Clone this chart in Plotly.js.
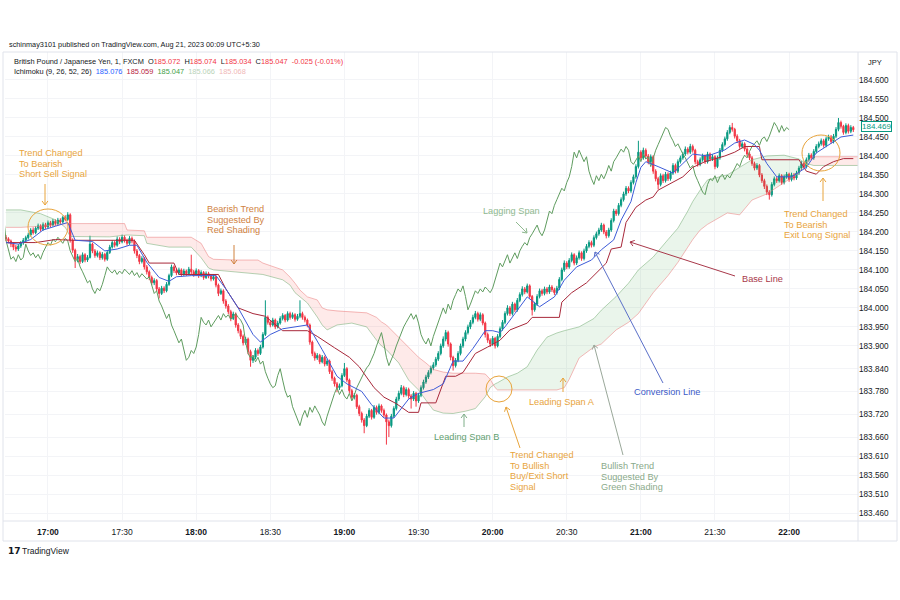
<!DOCTYPE html>
<html><head><meta charset="utf-8">
<script src="https://cdn.plot.ly/plotly-3.0.1.min.js"></script>
<style>html,body{margin:0;padding:0;background:#fff;}#chart{width:900px;height:600px;}</style>
</head><body><div id="chart"></div>
<script>
// ---------- DATA (1-minute GBP/JPY candles from 16:43) ----------
const startTime = Date.UTC(2023, 7, 21, 16, 43, 0);
const openP = [
184.186,184.182,184.176,184.168,184.160,184.155,184.163,184.171,184.178,184.185,
184.192,184.205,184.198,184.210,184.216,184.207,184.219,184.213,184.224,184.218,
184.228,184.222,184.231,184.226,184.238,184.233,184.245,184.178,184.152,184.128,
184.135,184.122,184.140,184.126,184.133,184.168,184.150,184.138,184.145,184.132,
184.141,184.128,184.146,184.160,184.172,184.165,184.181,184.174,184.186,184.178,
184.170,184.183,184.176,184.150,184.138,184.122,184.130,184.108,184.095,184.080,
184.066,184.072,184.050,184.038,184.052,184.045,184.062,184.085,184.108,184.098,
184.092,184.100,184.088,184.097,184.090,184.102,184.095,184.088,184.098,184.085,
184.093,184.080,184.090,184.084,184.076,184.082,184.060,184.038,184.045,184.018,
184.005,183.990,183.972,183.984,183.955,183.940,183.925,183.908,183.918,183.885,
183.862,183.870,183.888,183.880,183.897,183.930,183.975,183.962,183.955,183.968,
183.950,183.960,183.972,183.980,183.968,183.985,183.975,183.982,183.970,183.978,
183.985,183.975,183.968,183.955,183.910,183.880,183.868,183.875,183.858,183.870,
183.852,183.860,183.832,183.815,183.800,183.790,183.795,183.822,183.840,183.810,
183.782,183.765,183.770,183.740,183.722,183.705,183.690,183.715,183.730,183.712,
183.738,183.725,183.742,183.730,183.718,183.700,183.690,183.715,183.735,183.760,
183.775,183.790,183.772,183.785,183.768,183.760,183.775,183.755,183.770,183.790,
183.805,183.818,183.830,183.842,183.850,183.865,183.880,183.900,183.918,183.935,
183.905,183.870,183.848,183.862,183.880,183.900,183.918,183.935,183.950,183.962,
183.975,183.985,183.970,183.982,183.960,183.930,183.915,183.905,183.920,183.900,
183.925,183.945,183.962,183.985,184.000,183.985,184.010,183.995,184.020,184.035,
184.050,184.042,184.058,184.030,183.995,184.010,184.030,184.045,184.038,184.050,
184.042,184.055,184.048,184.040,184.052,184.075,184.100,184.118,184.108,184.125,
184.140,184.118,184.132,184.145,184.130,184.150,184.162,184.172,184.165,184.185,
184.195,184.205,184.218,184.200,184.190,184.205,184.230,184.255,184.248,184.270,
184.285,184.300,184.315,184.308,184.330,184.345,184.372,184.410,184.395,184.415,
184.400,184.385,184.398,184.360,184.340,184.325,184.348,184.335,184.352,184.340,
184.355,184.375,184.360,184.385,184.395,184.405,184.418,184.410,184.425,184.415,
184.385,184.378,184.390,184.400,184.385,184.405,184.392,184.398,184.372,184.395,
184.415,184.430,184.445,184.462,184.475,184.470,184.452,184.440,184.425,184.432,
184.418,184.405,184.395,184.380,184.368,184.375,184.350,184.335,184.320,184.305,
184.298,184.325,184.340,184.335,184.348,184.330,184.345,184.352,184.338,184.350,
184.342,184.355,184.368,184.380,184.372,184.390,184.402,184.395,184.412,184.425,
184.432,184.440,184.428,184.445,184.450,184.438,184.452,184.470,184.488,184.478,
184.462,184.480,184.465,184.475];
const highP = [
184.192,184.186,184.180,184.172,184.166,184.168,184.176,184.184,184.190,184.198,
184.210,184.212,184.215,184.222,184.220,184.225,184.224,184.230,184.229,184.234,
184.233,184.237,184.236,184.243,184.244,184.252,184.249,184.183,184.156,184.142,
184.140,184.146,184.144,184.139,184.190,184.172,184.155,184.151,184.149,184.147,
184.145,184.151,184.166,184.178,184.177,184.188,184.186,184.193,184.191,184.182,
184.189,184.188,184.180,184.155,184.142,184.136,184.134,184.113,184.099,184.085,
184.078,184.076,184.055,184.058,184.057,184.068,184.090,184.114,184.112,184.103,
184.106,184.104,184.103,184.101,184.108,184.140,184.100,184.104,184.102,184.099,
184.097,184.096,184.095,184.088,184.088,184.086,184.064,184.051,184.049,184.023,
184.010,183.995,183.990,183.988,183.960,183.945,183.930,183.924,183.922,183.890,
183.876,183.894,183.893,183.903,183.936,184.020,183.980,183.967,183.974,183.972,
183.966,183.978,183.986,183.984,183.991,183.990,183.988,183.986,183.984,184.020,
183.990,183.980,183.972,183.959,183.914,183.885,183.881,183.879,183.876,183.874,
183.866,183.864,183.837,183.819,183.805,183.801,183.828,183.855,183.844,183.814,
183.787,183.776,183.774,183.745,183.727,183.710,183.721,183.736,183.734,183.744,
183.743,183.748,183.746,183.735,183.722,183.706,183.721,183.741,183.766,183.782,
183.797,183.795,183.791,183.790,183.773,183.781,183.779,183.776,183.796,183.811,
183.824,183.836,183.848,183.857,183.871,183.886,183.906,183.925,183.942,183.940,
183.909,183.874,183.868,183.886,183.906,183.924,183.941,183.956,183.968,183.982,
183.992,183.990,183.988,183.986,183.964,183.935,183.920,183.926,183.924,183.931,
183.951,183.968,183.991,184.007,184.005,184.016,184.014,184.026,184.041,184.057,
184.055,184.064,184.062,184.034,184.016,184.036,184.051,184.050,184.056,184.055,
184.061,184.060,184.053,184.058,184.081,184.106,184.125,184.123,184.131,184.146,
184.144,184.138,184.151,184.149,184.156,184.168,184.178,184.177,184.191,184.201,
184.211,184.224,184.222,184.205,184.211,184.236,184.261,184.260,184.276,184.291,
184.306,184.321,184.320,184.336,184.351,184.378,184.440,184.415,184.422,184.420,
184.405,184.404,184.402,184.365,184.345,184.354,184.353,184.358,184.357,184.361,
184.381,184.380,184.391,184.401,184.411,184.425,184.423,184.432,184.430,184.419,
184.390,184.396,184.406,184.404,184.411,184.409,184.404,184.402,184.401,184.421,
184.436,184.451,184.468,184.481,184.487,184.474,184.457,184.445,184.438,184.436,
184.423,184.410,184.400,184.385,184.381,184.379,184.355,184.340,184.325,184.310,
184.331,184.346,184.345,184.354,184.352,184.351,184.358,184.356,184.356,184.355,
184.361,184.374,184.386,184.385,184.396,184.408,184.407,184.418,184.431,184.438,
184.446,184.445,184.451,184.456,184.455,184.458,184.476,184.500,184.493,184.482,
184.486,184.485,184.481,184.479];
const lowP = [
184.176,184.170,184.160,184.152,184.148,184.150,184.158,184.166,184.173,184.180,
184.188,184.193,184.194,184.205,184.201,184.203,184.208,184.209,184.212,184.214,
184.216,184.218,184.220,184.222,184.228,184.229,184.172,184.145,184.105,184.120,
184.116,184.118,184.120,184.121,184.130,184.144,184.132,184.133,184.126,184.127,
184.122,184.124,184.142,184.156,184.159,184.161,184.168,184.170,184.172,184.164,
184.166,184.170,184.143,184.131,184.115,184.117,184.101,184.088,184.073,184.060,
184.060,184.044,184.025,184.034,184.039,184.041,184.058,184.081,184.092,184.086,
184.087,184.082,184.084,184.084,184.086,184.089,184.082,184.084,184.079,184.081,
184.074,184.076,184.078,184.070,184.072,184.054,184.031,184.034,184.011,183.998,
183.984,183.965,183.968,183.948,183.933,183.918,183.901,183.903,183.878,183.845,
183.855,183.865,183.874,183.876,183.893,183.926,183.956,183.949,183.951,183.944,
183.946,183.956,183.967,183.962,183.964,183.969,183.971,183.964,183.966,183.973,
183.969,183.962,183.949,183.903,183.873,183.861,183.863,183.852,183.854,183.846,
183.847,183.826,183.808,183.793,183.778,183.784,183.791,183.818,183.804,183.776,
183.758,183.759,183.734,183.715,183.698,183.670,183.686,183.710,183.706,183.708,
183.719,183.720,183.724,183.712,183.640,183.660,183.685,183.710,183.730,183.755,
183.770,183.765,183.767,183.761,183.735,183.755,183.740,183.750,183.765,183.785,
183.800,183.813,183.825,183.836,183.845,183.860,183.875,183.895,183.912,183.898,
183.862,183.835,183.843,183.857,183.875,183.895,183.912,183.930,183.944,183.957,
183.970,183.964,183.965,183.954,183.922,183.908,183.897,183.900,183.893,183.896,
183.920,183.940,183.957,183.980,183.979,183.980,183.989,183.990,184.015,184.030,
184.036,184.038,184.024,183.980,183.990,184.005,184.025,184.032,184.033,184.036,
184.037,184.042,184.034,184.035,184.047,184.070,184.095,184.102,184.103,184.120,
184.112,184.113,184.127,184.124,184.125,184.145,184.157,184.159,184.160,184.180,
184.190,184.200,184.194,184.183,184.185,184.200,184.225,184.242,184.243,184.265,
184.280,184.295,184.302,184.303,184.325,184.340,184.367,184.389,184.390,184.394,
184.378,184.380,184.353,184.333,184.312,184.320,184.329,184.330,184.334,184.335,
184.350,184.354,184.355,184.380,184.390,184.400,184.404,184.405,184.409,184.378,
184.372,184.373,184.385,184.379,184.380,184.386,184.387,184.365,184.368,184.390,
184.410,184.425,184.440,184.457,184.464,184.446,184.434,184.419,184.420,184.412,
184.399,184.389,184.374,184.362,184.363,184.344,184.329,184.313,184.297,184.285,
184.293,184.320,184.329,184.330,184.324,184.325,184.340,184.332,184.333,184.336,
184.337,184.350,184.363,184.366,184.367,184.385,184.389,184.390,184.407,184.420,
184.427,184.422,184.423,184.440,184.432,184.433,184.447,184.465,184.472,184.456,
184.457,184.459,184.460,184.463];
const closeP = [
184.182,184.176,184.168,184.160,184.155,184.163,184.171,184.178,184.185,184.192,
184.205,184.198,184.210,184.216,184.207,184.219,184.213,184.224,184.218,184.228,
184.222,184.231,184.226,184.238,184.233,184.245,184.178,184.152,184.128,184.135,
184.122,184.140,184.126,184.133,184.168,184.150,184.138,184.145,184.132,184.141,
184.128,184.146,184.160,184.172,184.165,184.181,184.174,184.186,184.178,184.170,
184.183,184.176,184.150,184.138,184.122,184.130,184.108,184.095,184.080,184.066,
184.072,184.050,184.038,184.052,184.045,184.062,184.085,184.108,184.098,184.092,
184.100,184.088,184.097,184.090,184.102,184.095,184.088,184.098,184.085,184.093,
184.080,184.090,184.084,184.076,184.082,184.060,184.038,184.045,184.018,184.005,
183.990,183.972,183.984,183.955,183.940,183.925,183.908,183.918,183.885,183.862,
183.870,183.888,183.880,183.897,183.930,183.975,183.962,183.955,183.968,183.950,
183.960,183.972,183.980,183.968,183.985,183.975,183.982,183.970,183.978,183.985,
183.975,183.968,183.955,183.910,183.880,183.868,183.875,183.858,183.870,183.852,
183.860,183.832,183.815,183.800,183.790,183.795,183.822,183.840,183.810,183.782,
183.765,183.770,183.740,183.722,183.705,183.690,183.715,183.730,183.712,183.738,
183.725,183.742,183.730,183.718,183.700,183.690,183.715,183.735,183.760,183.775,
183.790,183.772,183.785,183.768,183.760,183.775,183.755,183.770,183.790,183.805,
183.818,183.830,183.842,183.850,183.865,183.880,183.900,183.918,183.935,183.905,
183.870,183.848,183.862,183.880,183.900,183.918,183.935,183.950,183.962,183.975,
183.985,183.970,183.982,183.960,183.930,183.915,183.905,183.920,183.900,183.925,
183.945,183.962,183.985,184.000,183.985,184.010,183.995,184.020,184.035,184.050,
184.042,184.058,184.030,183.995,184.010,184.030,184.045,184.038,184.050,184.042,
184.055,184.048,184.040,184.052,184.075,184.100,184.118,184.108,184.125,184.140,
184.118,184.132,184.145,184.130,184.150,184.162,184.172,184.165,184.185,184.195,
184.205,184.218,184.200,184.190,184.205,184.230,184.255,184.248,184.270,184.285,
184.300,184.315,184.308,184.330,184.345,184.372,184.410,184.395,184.415,184.400,
184.385,184.398,184.360,184.340,184.325,184.348,184.335,184.352,184.340,184.355,
184.375,184.360,184.385,184.395,184.405,184.418,184.410,184.425,184.415,184.385,
184.378,184.390,184.400,184.385,184.405,184.392,184.398,184.372,184.395,184.415,
184.430,184.445,184.462,184.475,184.470,184.452,184.440,184.425,184.432,184.418,
184.405,184.395,184.380,184.368,184.375,184.350,184.335,184.320,184.305,184.298,
184.325,184.340,184.335,184.348,184.330,184.345,184.352,184.338,184.350,184.342,
184.355,184.368,184.380,184.372,184.390,184.402,184.395,184.412,184.425,184.432,
184.440,184.428,184.445,184.450,184.438,184.452,184.470,184.488,184.478,184.462,
184.480,184.465,184.475,184.469];

// Ichimoku lines (index = minutes after 16:43)
const convIdx = [0,5,10,15,20,25,28,35,40,45,50,53,57,62,66,69,75,85,89,94,100,103,107,112,122,124,128,134,138,144,148,153,157,163,167,173,177,181,185,189,194,197,200,202,206,211,216,222,226,231,237,241,246,249,253,255,257,259,264,270,274,278,284,291,295,299,303,305,308,312,318,324,328,334,338,343];
const convVal = [184.172,184.168,184.180,184.205,184.215,184.225,184.178,184.175,184.150,184.155,184.165,184.165,184.120,184.080,184.070,184.082,184.085,184.085,184.050,184.000,183.930,183.910,183.930,183.945,183.955,183.935,183.890,183.820,183.800,183.780,183.745,183.710,183.710,183.760,183.775,183.785,183.800,183.860,183.860,183.893,183.940,183.940,183.935,183.950,183.985,184.029,184.003,184.029,184.073,184.108,184.126,184.153,184.179,184.231,184.280,184.330,184.370,184.385,184.372,184.355,184.380,184.405,184.400,184.416,184.434,184.442,184.430,184.415,184.380,184.345,184.345,184.370,184.408,184.434,184.450,184.455];
const baseIdx = [0,12,20,27,48,52,56,58,68,70,86,89,94,100,105,112,122,126,133,139,143,149,153,158,163,167,168,174,178,182,185,190,195,200,204,211,213,224,225,229,235,240,243,245,249,251,255,259,262,264,270,274,278,283,291,295,299,305,306,321,324,328,331,335,339,343];
const baseVal = [184.172,184.172,184.180,184.178,184.178,184.178,184.140,184.118,184.118,184.088,184.088,184.050,184.000,183.985,183.978,183.940,183.940,183.925,183.895,183.870,183.845,183.790,183.765,183.748,183.725,183.725,183.750,183.750,183.820,183.820,183.830,183.880,183.897,183.915,183.942,183.960,183.975,183.975,184.015,184.040,184.066,184.100,184.118,184.155,184.160,184.225,184.265,184.284,184.292,184.310,184.330,184.345,184.370,184.385,184.400,184.410,184.425,184.425,184.390,184.390,184.360,184.352,184.372,184.385,184.393,184.393];
const cloudIdx = [0,6,14,20,24,26,42,48,49,56,57,66,75,79,82,84,93,102,104,112,115,117,119,122,126,128,130,134,140,146,150,152,154,159,163,167,170,173,177,181,186,190,194,196,198,199,203,207,211,215,219,223,226,228,232,238,241,247,249,252,256,262,268,272,276,278,281,284,292,297,302,308,315,321,324,327,345];
const spanA = [184.258,184.258,184.248,184.232,184.212,184.188,184.187,184.190,184.192,184.190,184.170,184.160,184.160,184.132,184.105,184.100,184.095,184.090,184.088,184.074,184.060,184.040,184.030,184.013,183.976,183.955,183.942,183.955,183.960,183.950,183.915,183.900,183.890,183.855,183.810,183.784,183.757,183.731,183.723,183.722,183.728,183.735,183.766,183.790,183.800,183.803,183.818,183.828,183.845,183.889,183.923,183.934,183.940,183.943,183.950,183.972,183.994,184.030,184.045,184.065,184.100,184.134,184.180,184.210,184.255,184.280,184.310,184.337,184.350,184.370,184.390,184.400,184.402,184.392,184.380,184.375,184.375];
const spanB = [184.212,184.212,184.215,184.218,184.222,184.222,184.222,184.222,184.205,184.203,184.186,184.186,184.186,184.170,184.135,184.128,184.126,184.126,184.118,184.100,184.081,184.065,184.047,184.029,184.021,184.000,183.995,183.992,183.990,183.987,183.975,183.963,183.955,183.923,183.897,183.870,183.855,183.838,183.831,183.828,183.828,183.828,183.826,183.812,183.790,183.784,183.784,183.784,183.784,183.784,183.784,183.784,183.790,183.812,183.868,183.897,183.905,183.942,183.950,183.962,183.985,184.040,184.085,184.120,184.160,184.180,184.205,184.220,184.250,184.245,184.284,184.300,184.330,184.355,184.385,184.398,184.398];
const laggingShift = 26;

const timeTicks = ['17:00','17:30','18:00','18:30','19:00','19:30','20:00','20:30','21:00','21:30','22:00'];
const priceTicks = [184.600,184.550,184.500,184.450,184.400,184.350,184.300,184.250,184.200,184.150,184.100,184.050,184.000,183.950,183.900,183.840,183.780,183.720,183.660,183.610,183.560,183.510,183.460];
const legendOHLC = ['185.072','185.074','185.034','185.047'];
const legendChange = '-0.025 (-0.01%)';
const legendIchimoku = ['185.076','185.059','185.047','185.066','185.068'];

// ---------- helpers ----------
function T(i){
  const d = new Date(startTime + Math.round(i*60000));
  const p = n => String(n).padStart(2,'0');
  return d.getUTCFullYear()+'-'+p(d.getUTCMonth()+1)+'-'+p(d.getUTCDate())+' '+p(d.getUTCHours())+':'+p(d.getUTCMinutes())+':'+p(d.getUTCSeconds())+'.'+String(d.getUTCMilliseconds()).padStart(3,'0');
}
const PL=5, PR=858, PT=52, PB=520;
const px = x => (x-PL)/(PR-PL);
const py = y => (PB-y)/(PB-PT);
const FONT = 'Liberation Sans, Arial, sans-serif';

const times = closeP.map((_, i) => T(i));
const C_UP='#089981', C_DN='#f23645';

const traces = [];
// cloud fills
(function(){
  let cur=null; const polys=[];
  for(let k=0;k<cloudIdx.length;k++){
    const bull = spanA[k] >= spanB[k];
    if(!cur){cur={bull,pa:[[cloudIdx[k],spanA[k]]],pb:[[cloudIdx[k],spanB[k]]]};continue;}
    if(bull!==cur.bull){
      const d0=spanA[k-1]-spanB[k-1], d1=spanA[k]-spanB[k];
      const f=d0/(d0-d1);
      const xi=cloudIdx[k-1]+f*(cloudIdx[k]-cloudIdx[k-1]);
      const yi=spanA[k-1]+f*(spanA[k]-spanA[k-1]);
      cur.pa.push([xi,yi]); cur.pb.push([xi,yi]); polys.push(cur);
      cur={bull,pa:[[xi,yi]],pb:[[xi,yi]]};
    }
    cur.pa.push([cloudIdx[k],spanA[k]]); cur.pb.push([cloudIdx[k],spanB[k]]);
  }
  polys.push(cur);
  polys.forEach(p=>{
    const pts = p.pa.concat(p.pb.slice().reverse());
    traces.push({type:'scatter',mode:'lines',x:pts.map(q=>T(q[0])),y:pts.map(q=>q[1]),fill:'toself',
      fillcolor: p.bull?'rgba(67,160,71,0.11)':'rgba(244,67,54,0.11)', line:{width:0}, hoverinfo:'skip'});
  });
})();
traces.push({type:'scatter',mode:'lines',x:cloudIdx.map(T),y:spanA,line:{color:'rgba(120,175,120,0.55)',width:1},hoverinfo:'skip'});
traces.push({type:'scatter',mode:'lines',x:cloudIdx.map(T),y:spanB,line:{color:'rgba(235,130,130,0.55)',width:1},hoverinfo:'skip'});
traces.push({type:'candlestick',x:times,open:openP,high:highP,low:lowP,close:closeP,
  increasing:{line:{color:C_UP,width:1},fillcolor:C_UP},decreasing:{line:{color:C_DN,width:1},fillcolor:C_DN},
  whiskerwidth:0,hoverinfo:'skip'});
traces.push({type:'scatter',mode:'lines',x:closeP.map((_,i)=>T(i-laggingShift)),y:closeP,line:{color:'#5f9c5f',width:1},hoverinfo:'skip'});
traces.push({type:'scatter',mode:'lines',x:baseIdx.map(T),y:baseVal,line:{color:'#a8283a',width:1},hoverinfo:'skip'});
traces.push({type:'scatter',mode:'lines',x:convIdx.map(T),y:convVal,line:{color:'#3d5bd8',width:1},hoverinfo:'skip'});

// ---------- annotations & shapes ----------
const ann=[], shapes=[];
function txt(x,y,s,color,size,extra){ann.push(Object.assign({xref:'paper',yref:'paper',x:px(x),y:py(y),text:s,showarrow:false,xanchor:'left',yanchor:'middle',font:{family:FONT,size:size,color:color}},extra||{}));}
function lines(x,y0,dy,arr,color,size){arr.forEach((s,k)=>txt(x,y0+k*dy,s,color,size));}
function seg(x1,y1,x2,y2,color,w){shapes.push({type:'line',xref:'paper',yref:'paper',x0:px(x1),y0:py(y1),x1:px(x2),y1:py(y2),line:{color:color,width:w||1}});}
function arrow(x1,y1,x2,y2,color){
  seg(x1,y1,x2,y2,color,1);
  const dx=x2-x1, dy=y2-y1, L=Math.hypot(dx,dy), ux=dx/L, uy=dy/L, h=5, a=Math.PI/5;
  const c=Math.cos(a), s=Math.sin(a);
  seg(x2,y2,x2-h*(ux*c-uy*s),y2-h*(uy*c+ux*s),color,1);
  seg(x2,y2,x2-h*(ux*c+uy*s),y2-h*(uy*c-ux*s),color,1);
}
function circ(cx,cy,rx,ry,color){shapes.push({type:'circle',xref:'paper',yref:'paper',x0:px(cx-rx),x1:px(cx+rx),y0:py(cy+ry),y1:py(cy-ry),line:{color:color,width:1}});}

const ORANGE='#e8a43c';
const NS=9.2, LS=10.6;
// frame
const FR='#e0e3eb';
seg(3,52,897,52,FR); seg(3,521,897,521,FR); seg(3,541,897,541,FR);
seg(3,52,3,541,FR); seg(897,52,897,541,FR); seg(858,52,858,541,FR);

// header & legend
txt(7,44,'schinmay3101 published on TradingView.com, Aug 21, 2023 00:09 UTC+5:30','#131722',7.3);
const R='#f23645';
txt(12,61,'British Pound / Japanese Yen, 1, FXCM&nbsp; O<span style="color:'+R+'">'+legendOHLC[0]+'</span>&nbsp; H<span style="color:'+R+'">'+legendOHLC[1]+'</span>&nbsp; L<span style="color:'+R+'">'+legendOHLC[2]+'</span>&nbsp; C<span style="color:'+R+'">'+legendOHLC[3]+'</span>&nbsp; <span style="color:'+R+'">'+legendChange+'</span>','#131722',7.4);
txt(12,72,'Ichimoku (9, 26, 52, 26)&nbsp; <span style="color:#2962ff">'+legendIchimoku[0]+'</span>&nbsp; <span style="color:#b71c3c">'+legendIchimoku[1]+'</span>&nbsp; <span style="color:#43a047">'+legendIchimoku[2]+'</span>&nbsp; <span style="color:#b9d3b9">'+legendIchimoku[3]+'</span>&nbsp; <span style="color:#f0b8b8">'+legendIchimoku[4]+'</span>','#131722',7.4);
txt(866,62,'JPY','#131722',7.5);
ann.push({xref:'paper',yref:'y',x:px(861),y:closeP[closeP.length-1],yshift:3,text:closeP[closeP.length-1].toFixed(3),showarrow:false,xanchor:'left',yanchor:'middle',
  font:{family:FONT,size:8,color:C_UP},bgcolor:'#ffffff',bordercolor:C_UP,borderwidth:1,borderpad:0});
txt(6,551,'<b>17</b>','#131722',9,{font:{family:'DejaVu Sans, sans-serif',size:9,color:'#131722'}});
txt(20,551,'TradingView','#131722',8.5);

// explanatory notes
lines(17,153,LS,['Trend Changed','To Bearish','Short Sell Signal'],ORANGE,NS);
arrow(45,184,45,205,ORANGE); circ(48,227,20,18,ORANGE);
lines(205,209,LS,['Bearish Trend','Suggested By','Red Shading'],'#d0823f',NS);
arrow(234,245,234,264,'#d0823f');
txt(481,211,'Lagging Span','#8fb98f',NS); arrow(516,222,527,233,'#8fb98f');
txt(740,279,'Base Line','#a8384a',NS); arrow(735,276,630,242,'#a8384a');
txt(632,392,'Conversion Line','#3d5bc8',NS); arrow(663,383,595,252,'#5a6fc8');
txt(527,402,'Leading Span A',ORANGE,NS); arrow(563,392,563,378,ORANGE);
txt(432,437,'Leading Span B','#5fa070',NS); arrow(464,427,464,414,'#7fae88');
circ(499,389,13,13,ORANGE);
lines(508,455,LS,['Trend Changed','To Bullish','Buy/Exit Short','Signal'],ORANGE,NS);
arrow(520,448,506,407,ORANGE);
lines(599,466,LS,['Bullish Trend','Suggested By','Green Shading'],'#8aaa8a',NS);
arrow(623,455,594,345,'#9aa89a');
circ(821,153,19,18,ORANGE);
lines(782,214,LS,['Trend Changed','To Bearish','Exit Long Signal'],ORANGE,NS);
arrow(823,201,823,178,ORANGE);

const layout = {
  width:900,height:600,paper_bgcolor:'#ffffff',plot_bgcolor:'#ffffff',showlegend:false,hovermode:false,
  margin:{l:PL,r:900-PR,t:PT,b:600-PB,pad:0},
  xaxis:{type:'date',range:[T(-0.4),T(344.9)],rangeslider:{visible:false},
    tickvals:timeTicks.map(s=>'2023-08-21 '+s+':00'),
    ticktext:timeTicks.map(s=>s.endsWith(':00')?'<b>'+s+'</b>':s),
    ticklabelstandoff:5,
    tickfont:{family:FONT,size:8.5,color:'#131722'},showgrid:true,gridcolor:'#f3f4f7',zeroline:false,showline:false,ticks:''},
  yaxis:{side:'right',range:[183.4416,184.6737],tickvals:priceTicks,ticktext:priceTicks.map(v=>v.toFixed(3)),
    tickfont:{family:FONT,size:8.2,color:'#131722'},showgrid:true,gridcolor:'#f3f4f7',zeroline:false,showline:false,ticks:''},
  annotations:ann, shapes:shapes
};
Plotly.newPlot('chart',traces,layout,{staticPlot:true,displayModeBar:false});
</script></body></html>
